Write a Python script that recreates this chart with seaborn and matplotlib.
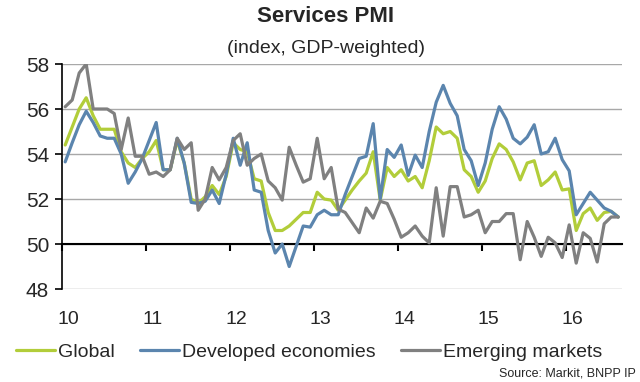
import numpy as np
import pandas as pd
import matplotlib
matplotlib.use("Agg")
import matplotlib.pyplot as plt
from matplotlib.lines import Line2D
import seaborn as sns

# monthly services PMI, Jan 2010 - Aug 2016
global_pmi = [54.4, 55.2, 56.0, 56.5, 55.7, 55.1, 55.1, 55.1, 54.1, 53.6, 53.4, 53.8,
              54.1, 54.6, 53.3, 53.3, 54.6, 53.6, 52.0, 51.8, 52.1, 52.6, 52.2, 53.0,
              54.5, 54.2, 54.1, 52.9, 52.8, 51.4, 50.6, 50.6, 50.8, 51.1, 51.4, 51.4,
              52.3, 52.0, 51.95, 51.5, 51.95, 52.4, 52.8, 53.15, 54.1, 51.95, 53.4, 53.0,
              53.3, 52.8, 53.0, 52.5, 53.7, 55.2, 54.9, 55.0, 54.7, 53.3, 53.0, 52.3,
              52.8, 53.8, 54.45, 54.2, 53.65, 52.85, 53.6, 53.7, 52.6, 52.85, 53.2, 52.4,
              52.45, 50.6, 51.35, 51.6, 51.05, 51.4, 51.45, 51.2]
developed = [53.65, 54.5, 55.3, 55.9, 55.4, 54.8, 54.7, 54.7, 54.0, 52.7, 53.2, 53.8,
             54.6, 55.4, 53.3, 53.3, 54.7, 53.6, 51.85, 51.8, 51.9, 52.4, 51.8, 53.1,
             54.7, 53.5, 54.5, 52.4, 52.3, 50.6, 49.6, 50.0, 49.0, 49.9, 50.8, 50.75,
             51.3, 51.5, 51.3, 51.3, 52.2, 53.0, 53.8, 53.9, 55.35, 52.0, 54.2, 53.85,
             54.4, 53.05, 53.95, 53.4, 55.0, 56.3, 57.05, 56.25, 55.7, 54.2, 53.7, 52.6,
             53.6, 55.1, 56.1, 55.55, 54.7, 54.45, 54.75, 55.3, 54.0, 54.1, 54.7, 53.75,
             53.25, 51.3, 51.8, 52.3, 51.95, 51.6, 51.45, 51.2]
emerging = [56.1, 56.4, 57.6, 58.0, 56.0, 56.0, 56.0, 55.8, 54.2, 55.6, 53.9, 53.9,
            53.1, 53.2, 53.0, 53.3, 54.7, 54.2, 54.5, 51.5, 52.0, 53.4, 52.85, 53.4,
            54.6, 54.9, 53.5, 53.8, 54.0, 52.8, 52.5, 51.95, 54.3, 53.5, 52.75, 52.9,
            54.7, 52.9, 53.4, 51.55, 51.4, 50.95, 50.5, 51.6, 51.15, 51.9, 51.8, 51.1,
            50.3, 50.5, 50.8, 50.35, 50.05, 52.5, 50.35, 52.55, 52.55, 51.2, 51.3, 51.5,
            50.5, 51.0, 51.0, 51.35, 51.35, 49.3, 51.0, 50.3, 49.45, 50.3, 50.05, 49.4,
            50.85, 49.15, 50.5, 50.25, 49.2, 50.9, 51.2, 51.2]
series_names = ["Global", "Developed economies", "Emerging markets"]
year_labels = ["10", "11", "12", "13", "14", "15", "16"]
y_ticks = [48, 50, 52, 54, 56, 58]

month = np.arange(len(global_pmi)) + 0.5
df = pd.DataFrame({
    "month": np.tile(month, 3),
    "pmi": global_pmi + developed + emerging,
    "series": np.repeat(series_names, len(month)),
})

sns.set_style("white")
plt.rcParams["font.family"] = ["Liberation Sans", "DejaVu Sans"]

colors = {"Global": "#b2cd3a", "Developed economies": "#5b85ae", "Emerging markets": "#808080"}

fig = plt.figure(figsize=(6.4, 3.82), dpi=100)
ax = fig.add_axes([61.7 / 640, 1 - 289 / 382, 560 / 640, 225 / 382])

sns.lineplot(data=df, x="month", y="pmi", hue="series", palette=colors,
             linewidth=2.3, ax=ax, legend=False)

ax.set_xlim(0, 12 * len(year_labels) - 4)
ax.set_ylim(48, 58)
ax.set_xlabel("")
ax.set_ylabel("")

# gridlines
ax.set_yticks(y_ticks)
ax.yaxis.grid(True, color="#a8a8a8", linewidth=1)
ax.set_axisbelow(True)

# spines: y axis on the left, x axis crosses at 50
for s in ["top", "right"]:
    ax.spines[s].set_visible(False)
ax.spines["left"].set_color("black")
ax.spines["left"].set_linewidth(1.2)
ax.spines["bottom"].set_position(("data", 50))
ax.spines["bottom"].set_color("black")
ax.spines["bottom"].set_linewidth(1.5)
ax.spines["bottom"].set_zorder(1.5)

ax.tick_params(axis="y", left=True, direction="out", length=5, width=1.2,
               color="black", labelsize=15, pad=4)

year_pos = np.arange(len(year_labels)) * 12
ax.set_xticks(year_pos)
ax.set_xticklabels([""] * len(year_pos))
ax.set_xticks(year_pos + 1, minor=True)
ax.set_xticklabels(year_labels, minor=True)
ax.tick_params(axis="x", which="major", bottom=True, direction="out", length=5,
               width=1.5, color="black")
ax.tick_params(axis="x", which="minor", bottom=True, length=0, labelsize=14, pad=48)

fig.text(0.508, 0.958, "Services PMI", ha="center", va="center",
         fontsize=16, fontweight="bold")
fig.text(0.51, 0.874, "(index, GDP-weighted)", ha="center", va="center", fontsize=14)

handles = [Line2D([], [], color=colors[n], linewidth=2.3) for n in series_names]
fig.legend(handles, series_names, loc="center", bbox_to_anchor=(0.483, 0.079), ncol=3,
           frameon=False, fontsize=14, handlelength=2.0, handletextpad=0.15,
           columnspacing=1.3)

fig.text(0.994, 0.022, "Source: Markit, BNPP IP", ha="right", va="center", fontsize=9)

fig.savefig("out.png", dpi=100)
